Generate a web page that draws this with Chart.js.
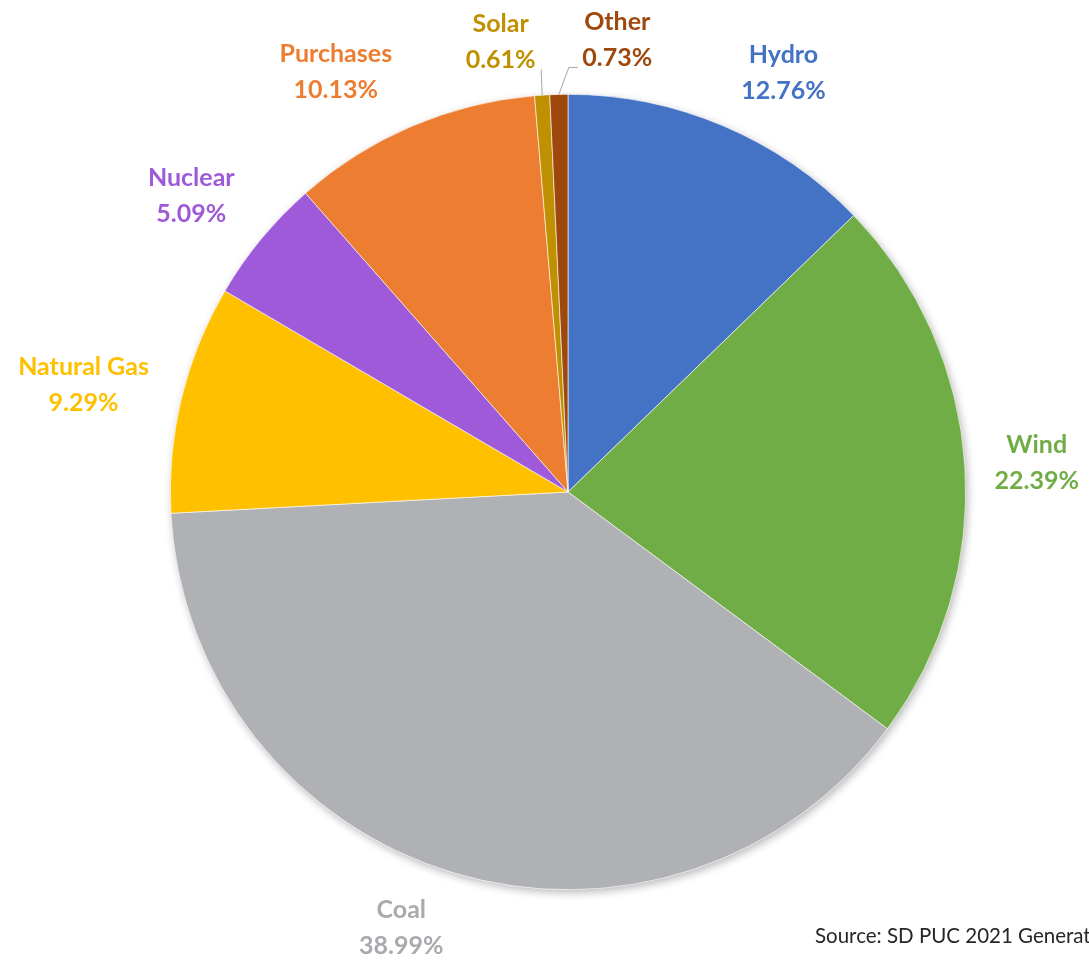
<!DOCTYPE html>
<html>
<head>
<meta charset="utf-8">
<script src="https://cdn.jsdelivr.net/npm/chart.js@4.4.1/dist/chart.umd.min.js"></script>
<style>
html,body{margin:0;padding:0;background:#fff;}
#wrap{position:relative;width:1089px;height:963px;overflow:hidden;}
</style>
</head>
<body>
<div id="wrap"><canvas id="c" width="1089" height="963"></canvas></div>
<script>
const categories = ["Hydro", "Wind", "Coal", "Natural Gas", "Nuclear", "Purchases", "Solar", "Other"];
const shares = [12.76, 22.39, 38.99, 9.29, 5.09, 10.13, 0.61, 0.73];
const sliceColors = ["#4472C4", "#70AD47", "#B0B1B4", "#FFC000", "#9E5AD8", "#ED7D31", "#BF9000", "#9E480E"];
const labelColors = ["#4472C4", "#70AD47", "#A9AAAD", "#FFC000", "#9E5AD8", "#ED7D31", "#BF9000", "#9E480E"];
const sourceNote = "Source: SD PUC 2021 Generation";

// label placement: nudges relative to point on the radial line at radius+70
const labelNudge = [[33,12],[2,2],[-32,-12],[-30,3],[-16,2],[-49,10],[-37,17],[60,16]];

const shadowPlugin = {
  id: 'pieShadow',
  beforeDatasetsDraw(chart) {
    const arc = chart.getDatasetMeta(0).data[0];
    if (!arc) return;
    const ctx = chart.ctx;
    ctx.save();
    ctx.shadowColor = 'rgba(0,0,0,0.28)';
    ctx.shadowBlur = 9;
    ctx.shadowOffsetX = 2;
    ctx.shadowOffsetY = 3;
    ctx.fillStyle = '#fff';
    ctx.beginPath();
    ctx.arc(arc.x, arc.y, arc.outerRadius, 0, Math.PI * 2);
    ctx.fill();
    ctx.restore();
  }
};

const labelPlugin = {
  id: 'pieLabels',
  afterDatasetsDraw(chart) {
    const ctx = chart.ctx;
    const meta = chart.getDatasetMeta(0);
    ctx.save();
    ctx.font = 'bold 25px Lato';
    ctx.textAlign = 'center';
    ctx.textBaseline = 'middle';
    meta.data.forEach((arc, i) => {
      const mid = (arc.startAngle + arc.endAngle) / 2;
      const R = arc.outerRadius + 70;
      const x = arc.x + Math.cos(mid) * R + labelNudge[i][0];
      const y = arc.y + Math.sin(mid) * R + labelNudge[i][1];
      ctx.fillStyle = labelColors[i];
      ctx.fillText(categories[i], x, y - 18);
      ctx.fillText(shares[i].toFixed(2) + '%', x, y + 18);
      // leader lines for the tiny slices
      if (i >= 6) {
        const ex = arc.x + Math.cos(mid) * arc.outerRadius;
        const ey = arc.y + Math.sin(mid) * arc.outerRadius;
        ctx.strokeStyle = '#A6A6A6';
        ctx.lineWidth = 1;
        ctx.beginPath();
        ctx.moveTo(ex, ey);
        if (i === 6) {
          ctx.lineTo(ex - 1, y + 27);
        } else {
          ctx.lineTo(ex + 10, y + 27);
          ctx.lineTo(ex + 19, y + 27);
        }
        ctx.stroke();
      }
    });
    ctx.font = '20.5px Lato';
    ctx.fillStyle = '#262626';
    ctx.textAlign = 'left';
    ctx.textBaseline = 'alphabetic';
    ctx.fillText(sourceNote, 815, 943);
    ctx.restore();
  }
};

new Chart(document.getElementById('c'), {
  type: 'pie',
  data: {
    labels: categories,
    datasets: [{
      data: shares,
      backgroundColor: sliceColors,
      borderColor: '#ffffff',
      borderWidth: 0.6
    }]
  },
  options: {
    responsive: false,
    animation: false,
    layout: { padding: { left: 170, right: 123, top: 94, bottom: 73 } },
    plugins: {
      legend: { display: false },
      tooltip: { enabled: false }
    }
  },
  plugins: [shadowPlugin, labelPlugin]
});
</script>
</body>
</html>
